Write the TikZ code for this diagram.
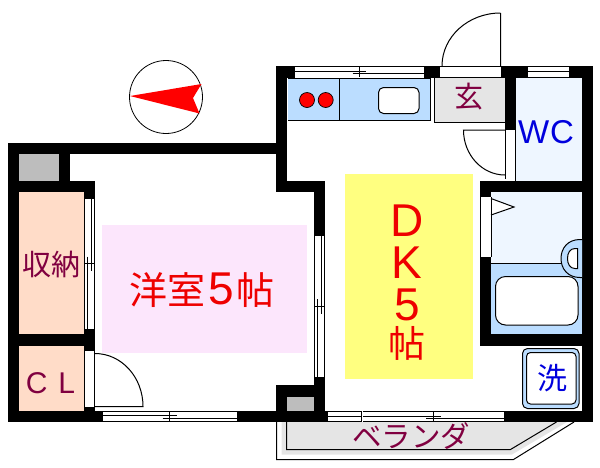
\documentclass[tikz,border=0pt]{standalone}
\usepackage{fontspec}
\setmainfont{Noto Sans CJK JP}
\newfontfamily\latinf{Liberation Sans}

\definecolor{closetc}{HTML}{FFDCC8}
\definecolor{kitchenc}{HTML}{BBDDFF}
\definecolor{bathc}{HTML}{EEF6FF}
\definecolor{dkc}{HTML}{FFFF80}
\definecolor{roomc}{HTML}{FCE6FC}
\definecolor{entryc}{HTML}{E5E5E5}
\definecolor{shaftc}{HTML}{BDBDBD}
\definecolor{plum}{HTML}{800040}
\definecolor{redc}{HTML}{EE0000}
\definecolor{bluec}{HTML}{0000DD}

\tikzset{
	wall/.style={fill=black},
	lbl/.style={inner sep=0pt,text=#1},
	big/.style={font=\fontsize{#1}{#1}\selectfont},
	bigl/.style={font=\fontsize{#1}{#1}\selectfont\latinf}
}

\begin{document}
\begin{tikzpicture}[x=1pt,y=-1pt,line width=1pt]
\useasboundingbox (0,0) rectangle (600,467);

% compass
\draw[line width=0.8pt] (166,97) circle (36.5);
\fill[red] (130,96) -- (201.5,84) -- (193,98) -- (199.5,113.5) -- cycle;

% room colours
\fill[roomc] (102,225) rectangle (307,353);
\fill[dkc] (345,174) rectangle (473,379);
\fill[closetc] (19,192) rectangle (84,334);
\fill[closetc] (19,346) rectangle (84,411);
\fill[bathc] (516,78) rectangle (582,181);
\fill[bathc] (491,192) rectangle (582,264);
\fill[kitchenc] (491,264) rectangle (582,334);
\fill[shaftc] (19,154) rectangle (59,181);
\fill[shaftc] (287,397) rectangle (314,411);

% veranda
\fill[entryc] (281.5,422) -- (281.5,454.5) -- (512,454.5) -- (567,422) -- cycle;
\draw (276.5,422) -- (276.5,459.5) -- (513.5,459.5) -- (574,422);
\draw (286.5,422) -- (286.5,449.5) -- (510.5,449.5) -- (556.5,422);

% walls
\fill[wall] (8,143) rectangle (287,154);
\fill[wall] (8,143) rectangle (19,422);
\fill[wall] (59,154) rectangle (70,181);
\fill[wall] (19,181) rectangle (95,192);
\fill[wall] (84,181) rectangle (95,199);
\fill[wall] (19,334) rectangle (95,346);
\fill[wall] (84,329) rectangle (95,351);
\fill[wall] (84,407) rectangle (95,411);
\fill[wall] (8,411) rectangle (103,422);
\fill[wall] (237,411) rectangle (328,422);
\fill[wall] (276,66) rectangle (287,192);
\fill[wall] (276,66) rectangle (295,78);
\fill[wall] (276,181) rectangle (325,192);
\fill[wall] (314,181) rectangle (325,236);
\fill[wall] (314,377) rectangle (325,411);
\fill[wall] (276,385) rectangle (325,397);
\fill[wall] (276,385) rectangle (287,411);
\fill[wall] (424,66) rectangle (440,78);
\fill[wall] (501,66) rectangle (528,78);
\fill[wall] (505,78) rectangle (516,130);
\fill[wall] (569,66) rectangle (593,78);
\fill[wall] (582,66) rectangle (593,422);
\fill[wall] (480,181) rectangle (593,192);
\fill[wall] (480,181) rectangle (491,197);
\fill[wall] (480,257) rectangle (491,346);
\fill[wall] (480,334) rectangle (593,346);
\fill[wall] (504,411) rectangle (593,422);

% kitchen
\draw[fill=kitchenc] (288,78) -- (430.5,78) -- (430.5,120.5) -- (288,120.5);
\draw (339.5,78) -- (339.5,120.5);
\foreach \x in {307,325.7}{
	\draw[fill=red,line width=0.7pt] (\x,100) circle (7.5);
}
\draw[fill=white,rounded corners=5pt] (378.5,87.5) rectangle (419,113.5);

% entry
\fill[entryc] (434.5,78) rectangle (505,122.5);
\draw (434.5,78) -- (434.5,122.5) -- (505,122.5);

% bath
\draw (491,263.5) -- (562,263.5);
\draw[fill=kitchenc] (582,239.5) -- (580,239.5) .. controls (568,239.5) and (561,248) .. (561,258.5) .. controls (561,269) and (568,277.5) .. (580,277.5) -- (582,277.5);
\draw[fill=white] (577.7,248.5) -- (575,248.5) .. controls (570,248.5) and (567.5,253) .. (567.5,258.5) .. controls (567.5,264) and (570,268.5) .. (575,268.5) -- (577.7,268.5) -- cycle;
\draw[fill=white,rounded corners=10pt] (495.5,276.5) rectangle (578,325);
\draw[fill=white] (491,198.5) -- (514,207) -- (491,215);

% washer
\draw[fill=kitchenc,rounded corners=5pt] (522.5,348.5) rectangle (579,408.5);
\draw[fill=white,rounded corners=4pt] (526.5,352.5) rectangle (576,404);

% windows, horizontal
\foreach \xa/\xb/\xc/\ya/\yb in {103/237/169.5/415.5/418,363/503.7/433/416/418.3}{
	\draw (\xa,411) -- (\xb,411);
	\draw (\xa,421.7) -- (\xb,421.7);
	\draw (\xa,\ya) -- (\xc+7.5,\ya);
	\draw (\xc-7,\yb) -- (\xb,\yb);
	\draw (\xc,411) -- (\xc,421.7);
}
\draw (328,411) -- (361,411);
\draw (328,416) -- (361,416);
\draw (328,421.7) -- (361,421.7);
\draw (361.5,411) -- (361.5,421.7);
\draw (295,66.7) -- (424,66.7);
\draw (295,71) -- (366,71);
\draw (352.5,73.3) -- (424,73.3);
\draw (359.5,66.7) -- (359.5,77);
\draw (528,66.7) -- (569,66.7);
\draw (528,71.7) -- (569,71.7);
\draw (528,77) -- (569,77);

% windows, vertical
\foreach \xa/\xb/\xc/\xd/\ya/\yb/\yc in {84.4/87.3/91.3/94.7/199/329/263.5,314.7/317.7/321.7/324.5/236/377/306}{
	\draw (\xa,\ya) -- (\xa,\yb);
	\draw (\xd,\ya) -- (\xd,\yb);
	\draw (\xb,\yc-7) -- (\xb,\yb);
	\draw (\xc,\ya) -- (\xc,\yc+7.5);
	\draw (\xa,\yc) -- (\xd,\yc);
}

% doors
\draw (440,66.5) -- (501,66.5);
\draw (440,77.3) -- (501,77.3);
\draw (500.5,66) -- (500.5,13) (442,66) arc[start angle=180,end angle=270,x radius=58.5,y radius=53];
\draw (505.5,130) -- (505.5,179);
\draw (515.5,130) -- (515.5,181);
\draw (505,130) -- (463.5,130) arc[start angle=180,end angle=90,x radius=41.5,y radius=45];
\draw (84.5,351) -- (84.5,407);
\draw (94.7,351) -- (94.7,407);
\draw (95,406.5) -- (143,406.5) arc[start angle=0,end angle=-90,x radius=48,y radius=53];
\draw (480.5,197) -- (480.5,257);
\draw (491,197) -- (491,257);

% labels
\node[lbl=plum,big=29] (shuno) at (52,264) {収納};
\node[lbl=plum,bigl=30] (cl) at (50.5,383) {C\hspace{11pt}L};
\node[lbl=redc,big=38] (room) at (202,290) {洋室\hspace{3pt}{\fontsize{46}{46}\selectfont\latinf 5}\hspace{3pt}帖};
\node[lbl=plum,big=29] (entry) at (469,97) {玄};
\node[lbl=bluec,bigl=33] (wc) at (546,132.5) {W\hspace{1pt}C};
\node[lbl=redc,anchor=north,align=center,font=\fontsize{46}{42}\selectfont\latinf] (dk) at (407,204) {D\\K\\5\\[-5pt]{\fontsize{37}{37}\selectfont\rmfamily 帖}};
\node[lbl=bluec,big=30] (wash) at (552,378) {洗};
\node[lbl=plum,big=29.5] (veranda) at (411,436) {ベランダ};

\end{tikzpicture}
\end{document}
